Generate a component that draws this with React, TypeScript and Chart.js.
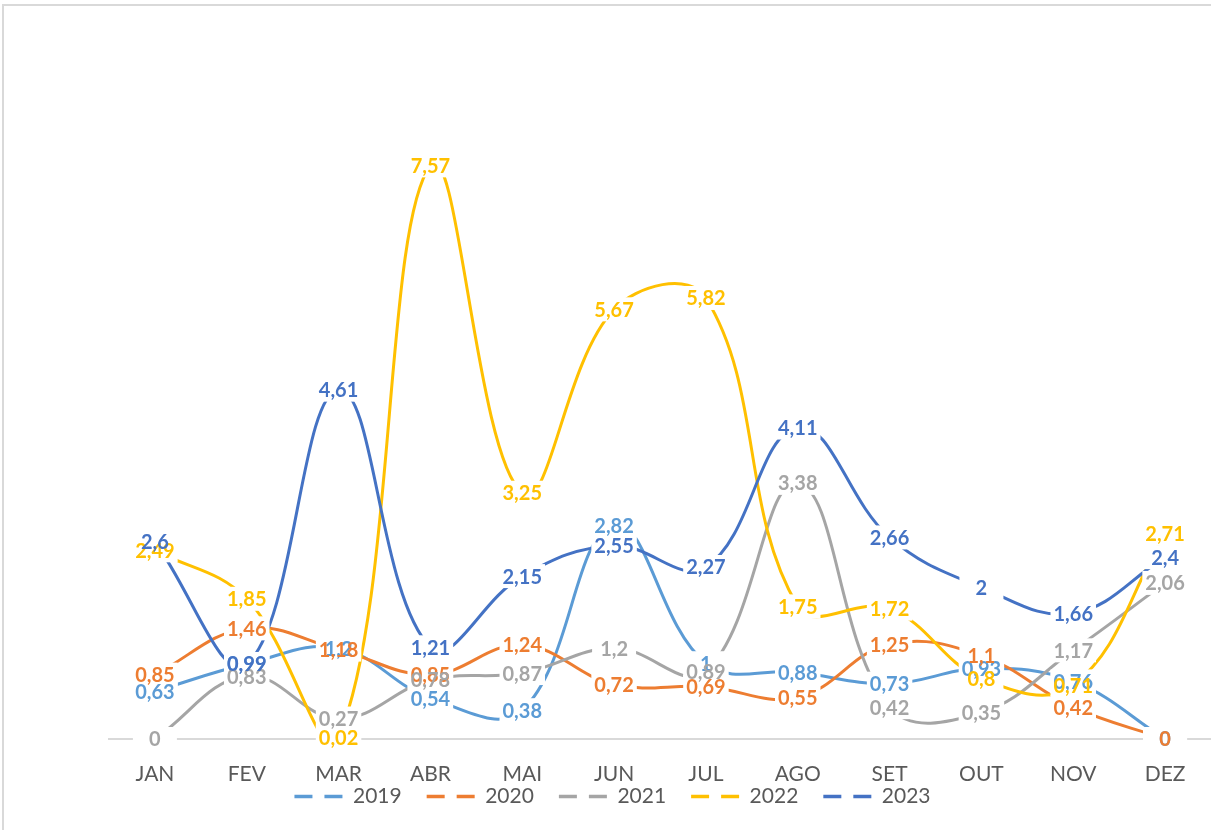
import React, { useEffect, useRef } from 'react';
import { Chart, registerables } from 'chart.js';

Chart.register(...registerables);

const months = ['JAN', 'FEV', 'MAR', 'ABR', 'MAI', 'JUN', 'JUL', 'AGO', 'SET', 'OUT', 'NOV', 'DEZ'];
const s2019 = [0.63, 0.99, 1.2, 0.54, 0.38, 2.82, 1, 0.88, 0.73, 0.93, 0.76, 0];
const s2020 = [0.85, 1.46, 1.18, 0.85, 1.24, 0.72, 0.69, 0.55, 1.25, 1.1, 0.42, 0];
const s2021 = [0, 0.83, 0.27, 0.78, 0.87, 1.2, 0.89, 3.38, 0.42, 0.35, 1.17, 2.06];
const s2022 = [2.49, 1.85, 0.02, 7.57, 3.25, 5.67, 5.82, 1.75, 1.72, 0.8, 0.71, 2.71];
const s2023 = [2.6, 0.99, 4.61, 1.21, 2.15, 2.55, 2.27, 4.11, 2.66, 2, 1.66, 2.4];
const seriesNames = ['2019', '2020', '2021', '2022', '2023'];
const seriesValues = [s2019, s2020, s2021, s2022, s2023];
const seriesColors = ['#5B9BD5', '#ED7D31', '#A5A5A5', '#FFC000', '#4472C4'];

const FONT = 'Lato, "Open Sans", sans-serif';

const framePlugin = {
  id: 'frame',
  beforeDraw(chart: any) {
    const ctx = chart.ctx;
    ctx.save();
    ctx.fillStyle = '#ffffff';
    ctx.fillRect(0, 0, chart.width, chart.height);
    ctx.strokeStyle = '#d9d9d9';
    ctx.lineWidth = 2;
    ctx.beginPath();
    ctx.moveTo(3, chart.height);
    ctx.lineTo(3, 5);
    ctx.lineTo(chart.width, 5);
    ctx.stroke();
    ctx.restore();
  },
};

const legendShiftPlugin = {
  id: 'legendShift',
  afterLayout(chart: any) {
    const lg = chart.legend;
    if (lg) {
      lg.top -= 25;
      lg.bottom -= 25;
      lg.left += 7;
      lg.right += 7;
    }
  },
};

const labelPlugin = {
  id: 'valueLabels',
  afterDatasetsDraw(chart: any) {
    const ctx = chart.ctx;
    ctx.save();
    ctx.font = `bold 20px ${FONT}`;
    ctx.textAlign = 'center';
    ctx.textBaseline = 'middle';
    const items: any[] = [];
    chart.data.datasets.forEach((ds: any, i: number) => {
      const meta = chart.getDatasetMeta(i);
      meta.data.forEach((pt: any, j: number) => {
        const txt = String(ds.data[j]).replace('.', ',');
        items.push({ x: pt.x, y: pt.y, txt, color: ds.borderColor });
      });
    });
    ctx.fillStyle = '#ffffff';
    items.forEach((it) => {
      const w = Math.max(ctx.measureText(it.txt).width + 6, 44);
      const h = 24;
      ctx.fillRect(it.x - w / 2, it.y - h / 2, w, h);
    });
    items.forEach((it) => {
      ctx.fillStyle = it.color;
      ctx.fillText(it.txt, it.x, it.y + 1);
    });
    ctx.restore();
  },
};

export default function App() {
  const ref = useRef<HTMLCanvasElement>(null);
  useEffect(() => {
    document.body.style.margin = '0';
    const chart = new Chart(ref.current as HTMLCanvasElement, {
      type: 'line',
      data: {
        labels: months,
        datasets: seriesNames.map((name, i) => ({
          label: name,
          data: seriesValues[i],
          borderColor: seriesColors[i],
          backgroundColor: seriesColors[i],
          borderWidth: 3,
          borderCapStyle: 'round',
          tension: 0.4,
          pointRadius: 0,
          pointHoverRadius: 0,
          fill: false,
          clip: false,
          order: 4 - i,
        })),
      },
      options: {
        responsive: false,
        animation: false,
        events: [],
        layout: { padding: { left: 0, right: 0, top: 57, bottom: -12 } },
        elements: { line: { capBezierPoints: false } as any },
        scales: {
          x: {
            offset: true,
            grid: { display: false, drawTicks: false },
            border: { display: true, color: '#d9d9d9', width: 2 },
            ticks: { color: '#595959', font: { family: FONT, size: 21 }, padding: 23 },
            afterFit: (s: any) => { s.height = 47; },
          },
          y: {
            min: 0,
            max: 9,
            display: true,
            grid: { display: false },
            border: { display: false },
            ticks: { display: false },
            afterFit: (s: any) => { s.width = 109; },
          },
        },
        plugins: {
          tooltip: { enabled: false },
          legend: {
            position: 'bottom',
            labels: {
              usePointStyle: true,
              pointStyleWidth: 48,
              boxHeight: 20,
              padding: 25,
              color: '#595959',
              font: { family: FONT, size: 21 },
              generateLabels: (ch: any) =>
                ch.data.datasets.map((ds: any, i: number) => ({
                  text: ds.label,
                  fillStyle: 'transparent',
                  strokeStyle: ds.borderColor,
                  lineWidth: 3.5,
                  lineDash: [18, 12],
                  lineCap: 'butt',
                  pointStyle: 'line',
                  hidden: false,
                  datasetIndex: i,
                  fontColor: '#595959',
                })),
            },
          },
        },
      },
      plugins: [framePlugin, legendShiftPlugin, labelPlugin],
    } as any);
    return () => chart.destroy();
  }, []);
  return (
    <div style={{ width: 1211, height: 830 }}>
      <canvas ref={ref} width={1211} height={830} style={{ display: 'block' }} />
    </div>
  );
}
